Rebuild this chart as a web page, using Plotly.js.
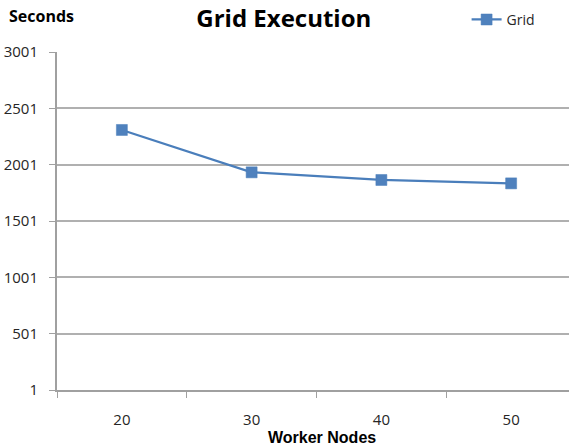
<!DOCTYPE html>
<html>
<head>
<meta charset="utf-8">
<script src="https://cdn.plot.ly/plotly-3.0.1.min.js"></script>
<style>html,body{margin:0;padding:0;background:#fff;}#chart{width:569px;height:447px;}</style>
</head>
<body>
<div id="chart"></div>
<script>
var categories = ["20", "30", "40", "50"];
var gridSeconds = [2309, 1933, 1865, 1835];
var yTicks = [1, 501, 1001, 1501, 2001, 2501, 3001];
var seriesName = "Grid";

var trace = {
  x: categories,
  y: gridSeconds,
  type: "scatter",
  mode: "lines+markers",
  name: seriesName,
  line: {color: "#4a7ebb", width: 2.25},
  marker: {symbol: "square", size: 11, color: "#4f81bd", line: {color: "#4a7ebb", width: 0.5}}
};

var layout = {
  width: 569, height: 447,
  margin: {l: 57, r: 0, t: 52, b: 57},
  paper_bgcolor: "#ffffff", plot_bgcolor: "#ffffff",
  showlegend: true,
  title: {text: "Grid Execution", x: 0.443, xanchor: "center", xref: "paper", y: 0.958, yanchor: "middle", yref: "container",
    font: {family: "Open Sans", size: 24, color: "#000000", weight: "bold"}},
  font: {family: "Open Sans", size: 15, color: "#262626"},
  legend: {x: 0.80, xanchor: "left", y: 1.095, yanchor: "middle", font: {family: "Open Sans", size: 14, color: "#262626"},
    bgcolor: "rgba(0,0,0,0)", itemwidth: 30, tracegroupgap: 0},
  xaxis: {type: "category", range: [-0.5, 3.446], tickson: "boundaries", ticks: "outside", ticklen: 6, tickcolor: "#a0a0a0",
    showline: true, linecolor: "#a0a0a0", linewidth: 2, showgrid: false, zeroline: false,
    ticklabelstandoff: 15, tickfont: {family: "Open Sans", size: 15, color: "#262626"}},
  yaxis: {range: [1, 3001], tickvals: yTicks, ticktext: yTicks.map(String), ticks: "outside", ticklen: 6, tickcolor: "#a0a0a0",
    showline: true, linecolor: "#a0a0a0", linewidth: 2, showgrid: true, gridcolor: "#b0b0b0", gridwidth: 2, zeroline: false,
    ticklabelstandoff: 8, tickfont: {family: "Open Sans", size: 15, color: "#262626"}},
  annotations: [
    {text: "Seconds", xref: "paper", yref: "paper", x: -0.098, y: 1.107, xanchor: "left", yanchor: "middle", showarrow: false,
      font: {family: "Open Sans", size: 16, color: "#000000", weight: "bold"}},
    {text: "Worker Nodes", xref: "paper", yref: "paper", x: 0.518, y: -0.142, xanchor: "center", yanchor: "middle", showarrow: false,
      font: {family: "Liberation Sans", size: 16, color: "#000000", weight: "bold"}}
  ]
};

Plotly.newPlot("chart", [trace], layout, {displayModeBar: false, staticPlot: true});
</script>
</body>
</html>
